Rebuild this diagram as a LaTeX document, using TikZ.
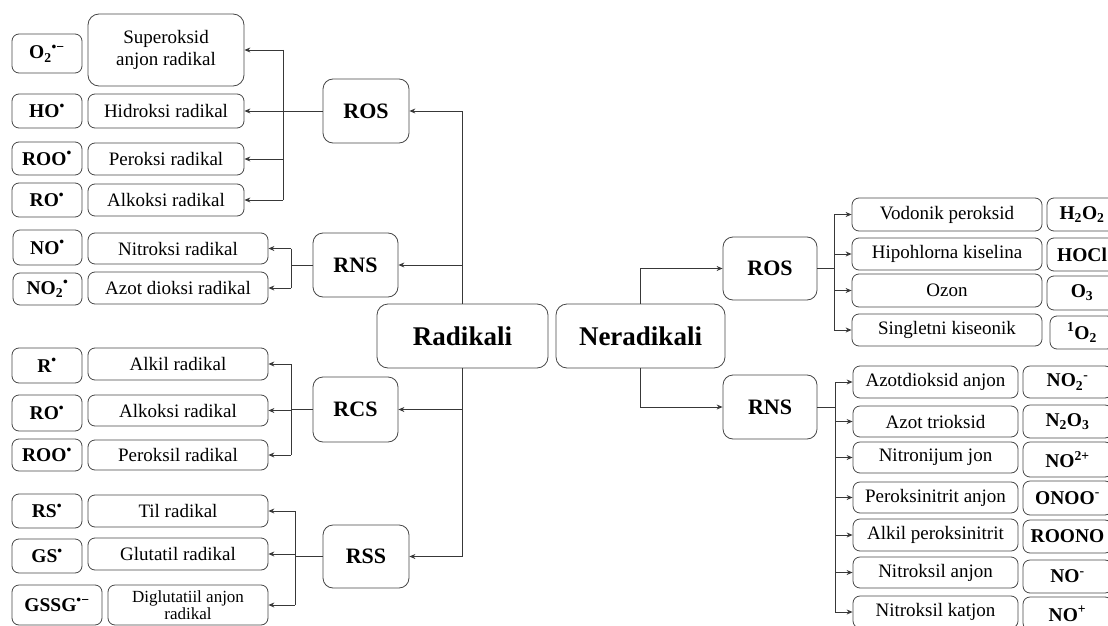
\documentclass[tikz,border=0pt]{standalone}
\usepackage{fontspec}
\setmainfont{Liberation Serif}
\usetikzlibrary{arrows.meta}
\tikzset{
  bx/.style={draw=black!72, line width=0.8pt, rounded corners=7pt, inner sep=0pt, align=center, text=black},
  namebox/.style={bx, font=\fontsize{19}{22}\selectfont},
  fbox/.style={bx, font=\fontsize{19.5}{22}\selectfont\bfseries},
  grp/.style={bx, rounded corners=10pt, font=\fontsize{22}{26}\selectfont\bfseries},
  mainbox/.style={bx, rounded corners=11pt, font=\fontsize{27}{32}\selectfont\bfseries},
  ln/.style={draw=black!78, line width=0.9pt},
  arr/.style={ln, -{Stealth[length=6pt,width=5pt]}}
}
\begin{document}
\begin{tikzpicture}[x=1pt,y=-1pt]
\fill[white] (0,0) rectangle (1108,626);
\useasboundingbox (0,0) rectangle (1108,626);
\clip (0,0) rectangle (1108,626);
% ---------- left formula boxes
\node[fbox, minimum width=70, minimum height=39] (f1) at (47,53.5) {O\textsubscript{2}\textsuperscript{•−}};
\node[fbox, minimum width=70, minimum height=34] (f2) at (47,111) {HO\textsuperscript{•}};
\node[fbox, minimum width=70, minimum height=33] (f3) at (47,158.5) {ROO\textsuperscript{•}};
\node[fbox, minimum width=70, minimum height=34] (f4) at (47,200) {RO\textsuperscript{•}};
\node[fbox, minimum width=69, minimum height=35] (f5) at (47.5,247.5) {NO\textsuperscript{•}};
\node[fbox, minimum width=69, minimum height=32] (f6) at (47.5,289) {NO\textsubscript{2}\textsuperscript{•}};
\node[fbox, minimum width=70, minimum height=35] (f7) at (47,365.5) {R\textsuperscript{•}};
\node[fbox, minimum width=70, minimum height=36] (f8) at (47,413) {RO\textsuperscript{•}};
\node[fbox, minimum width=70, minimum height=32] (f9) at (47,455) {ROO\textsuperscript{•}};
\node[fbox, minimum width=70, minimum height=34] (f10) at (47,511) {RS\textsuperscript{•}};
\node[fbox, minimum width=70, minimum height=34] (f11) at (47,556) {GS\textsuperscript{•}};
\node[fbox, minimum width=90, minimum height=40] (f12) at (57,605) {GSSG\textsuperscript{•−}};
% ---------- left name boxes
\node[namebox, rounded corners=11pt, minimum width=156, minimum height=72] (n1) at (166,50) {Superoksid\\anjon radikal};
\node[namebox, minimum width=156, minimum height=34] (n2) at (166,111) {Hidroksi radikal};
\node[namebox, minimum width=156, minimum height=32] (n3) at (166,159) {Peroksi radikal};
\node[namebox, minimum width=156, minimum height=32] (n4) at (166,200) {Alkoksi radikal};
\node[namebox, minimum width=180, minimum height=31] (n5) at (178,248.5) {Nitroksi radikal};
\node[namebox, minimum width=180, minimum height=32] (n6) at (178,288) {Azot dioksi radikal};
\node[namebox, minimum width=180, minimum height=32] (n7) at (178,364) {Alkil radikal};
\node[namebox, minimum width=180, minimum height=31] (n8) at (178,410.5) {Alkoksi radikal};
\node[namebox, minimum width=180, minimum height=30] (n9) at (178,455) {Peroksil radikal};
\node[namebox, minimum width=180, minimum height=32] (n10) at (178,511) {Til radikal};
\node[namebox, minimum width=180, minimum height=32] (n11) at (178,554) {Glutatil radikal};
\node[namebox, minimum width=160, minimum height=40, font=\fontsize{17}{17}\selectfont] (n12) at (188,605) {Diglutatiil anjon\\radikal};
% ---------- left groups
\node[grp, minimum width=86, minimum height=64] (rosL) at (366,111) {ROS};
\node[grp, minimum width=85, minimum height=64] (rnsL) at (355.5,265) {RNS};
\node[grp, minimum width=85, minimum height=65] (rcsL) at (355.5,409.5) {RCS};
\node[grp, minimum width=86, minimum height=63] (rssL) at (366,556.5) {RSS};
% ---------- main boxes
\node[mainbox, minimum width=171, minimum height=64] (rad) at (462.5,336) {Radikali};
\node[mainbox, minimum width=169, minimum height=64] (ner) at (640.5,336) {Neradikali};
% ---------- right groups
\node[grp, minimum width=94, minimum height=63] (rosR) at (770,268.5) {ROS};
\node[grp, minimum width=94, minimum height=64] (rnsR) at (770,407) {RNS};
% ---------- right ROS items
\node[namebox, minimum width=190, minimum height=33] (r1) at (947,214.5) {Vodonik peroksid};
\node[namebox, minimum width=190, minimum height=32] (r2) at (947,254) {Hipohlorna kiselina};
\node[namebox, minimum width=190, minimum height=33] (r3) at (947,290.5) {Ozon};
\node[namebox, minimum width=190, minimum height=32] (r4) at (947,330) {Singletni kiseonik};
\node[fbox, minimum width=70, minimum height=33] (g1) at (1082,214.5) {H\textsubscript{2}O\textsubscript{2}};
\node[fbox, minimum width=70, minimum height=33] (g2) at (1082,254.5) {HOCl};
\node[fbox, minimum width=70, minimum height=34] (g3) at (1082,293) {O\textsubscript{3}};
\node[fbox, minimum width=64, minimum height=33] (g4) at (1082,332.5) {\textsuperscript{1}O\textsubscript{2}};
% ---------- right RNS items
\node[namebox, minimum width=165, minimum height=32] (s1) at (935.5,382) {Azotdioksid anjon};
\node[namebox, minimum width=165, minimum height=31] (s2) at (935.5,421.5) {Azot trioksid};
\node[namebox, minimum width=165, minimum height=31] (s3) at (935.5,457.5) {Nitronijum jon};
\node[namebox, minimum width=165, minimum height=31] (s4) at (935.5,497.5) {Peroksinitrit anjon};
\node[namebox, minimum width=165, minimum height=32] (s5) at (935.5,535) {Alkil peroksinitrit};
\node[namebox, minimum width=165, minimum height=31] (s6) at (935.5,572.5) {Nitroksil anjon};
\node[namebox, minimum width=165, minimum height=32] (s7) at (935.5,612) {Nitroksil katjon};
\node[fbox, minimum width=89, minimum height=32] (h1) at (1067.5,382) {NO\textsubscript{2}\textsuperscript{-}};
\node[fbox, minimum width=89, minimum height=33] (h2) at (1067.5,421.5) {N\textsubscript{2}O\textsubscript{3}};
\node[fbox, minimum width=89, minimum height=35] (h3) at (1067.5,459.5) {NO\textsuperscript{2+}};
\node[fbox, minimum width=89, minimum height=34] (h4) at (1067.5,498) {ONOO\textsuperscript{-}};
\node[fbox, minimum width=89, minimum height=33] (h5) at (1067.5,536.5) {ROONO};
\node[fbox, minimum width=89, minimum height=33] (h6) at (1067.5,576.5) {NO\textsuperscript{-}};
\node[fbox, minimum width=89, minimum height=33] (h7) at (1067.5,613.5) {NO\textsuperscript{+}};
% ---------- bus coordinates
\coordinate (b1) at (283,0);
\coordinate (b2) at (291,0);
\coordinate (b3) at (291,0);
\coordinate (b4) at (295,0);
\coordinate (b5) at (834,0);
\coordinate (b6) at (835,0);
% ---------- trunk left
\draw[arr] (rad.north) |- (rosL.east);
\draw[arr] (rad.north |- rnsL.east) -- (rnsL.east);
\draw[arr] (rad.south) |- (rssL.east);
\draw[arr] (rad.south |- rcsL.east) -- (rcsL.east);
% ---------- ROS left
\draw[ln] (rosL.west) -- (b1 |- rosL.west);
\draw[ln] (b1 |- n1.east) -- (b1 |- n4.east);
\foreach \n in {n1,n2,n3,n4} \draw[arr] (b1 |- \n.east) -- (\n.east);
% ---------- RNS left
\draw[ln] (rnsL.west) -- (b2 |- rnsL.west);
\draw[ln] (b2 |- n5.east) -- (b2 |- n6.east);
\foreach \n in {n5,n6} \draw[arr] (b2 |- \n.east) -- (\n.east);
% ---------- RCS left
\draw[ln] (rcsL.west) -- (b3 |- rcsL.west);
\draw[ln] (b3 |- n7.east) -- (b3 |- n9.east);
\foreach \n in {n7,n8,n9} \draw[arr] (b3 |- \n.east) -- (\n.east);
% ---------- RSS left
\draw[ln] (rssL.west) -- (b4 |- rssL.west);
\draw[ln] (b4 |- n10.east) -- (b4 |- n12.east);
\foreach \n in {n10,n11,n12} \draw[arr] (b4 |- \n.east) -- (\n.east);
% ---------- right trunk
\draw[arr] (ner.north) |- (rosR.west);
\draw[arr] (ner.south) |- (rnsR.west);
% ---------- ROS right
\draw[ln] (rosR.east) -- (b5 |- rosR.east);
\draw[ln] (b5 |- r1.west) -- (b5 |- r4.west);
\foreach \n in {r1,r2,r3,r4} \draw[arr] (b5 |- \n.west) -- (\n.west);
% ---------- RNS right
\draw[ln] (rnsR.east) -- (b6 |- rnsR.east);
\draw[ln] (b6 |- s1.west) -- (b6 |- s7.west);
\foreach \n in {s1,s2,s3,s4,s5,s6,s7} \draw[arr] (b6 |- \n.west) -- (\n.west);
\end{tikzpicture}
\end{document}
